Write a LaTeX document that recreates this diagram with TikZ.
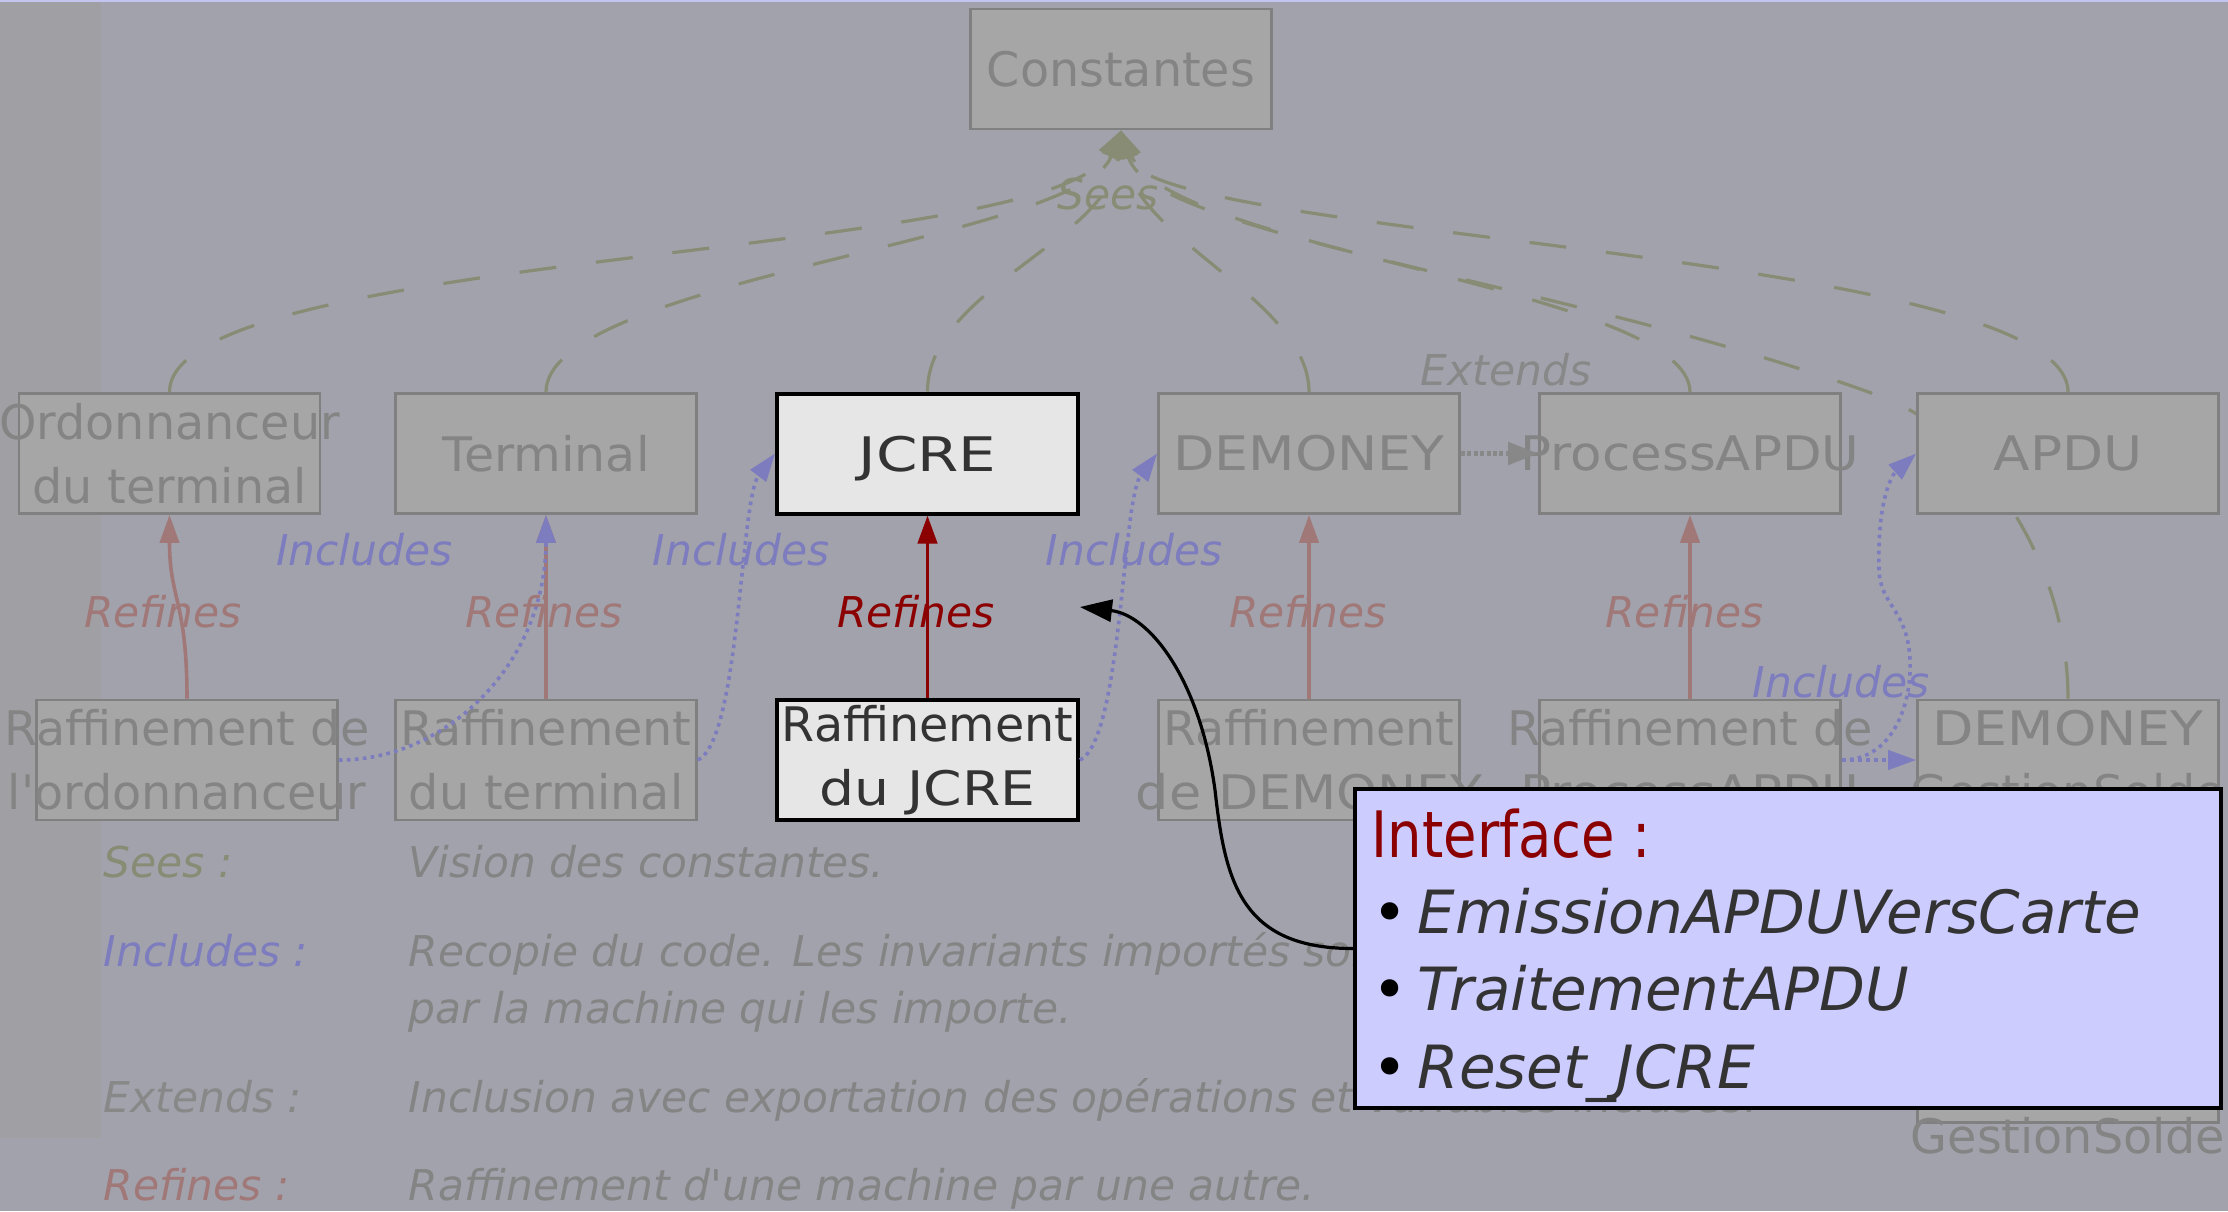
\documentclass[tikz,border=0pt]{standalone}
\usepackage{fontspec}
\usepackage{graphicx}
\usetikzlibrary{arrows.meta}
\newfontfamily\dvs{DejaVu Sans}[ItalicFont={DejaVu Sans Oblique}]
% horizontal stretch of a word
\newcommand{\hx}[2]{\scalebox{#1}[1]{#2}}

\definecolor{bgmain}{HTML}{A2A2AC}
\definecolor{bgstrip}{HTML}{A0A0A4}
\definecolor{topline}{HTML}{C4C4F0}
\definecolor{boxfill}{HTML}{A6A6A6}
\definecolor{boxline}{HTML}{808080}
\definecolor{greytext}{HTML}{848484}
\definecolor{seescol}{HTML}{888C74}
\definecolor{inclcol}{HTML}{7C7CBE}
\definecolor{refcol}{HTML}{A07878}
\definecolor{extcol}{HTML}{888888}
\definecolor{darkred}{HTML}{8B0000}
\definecolor{ifill}{HTML}{CCCCFF}
\definecolor{ink}{HTML}{333333}
\definecolor{jfill}{HTML}{E6E6E6}

\pgfdeclarelayer{back}
\pgfdeclarelayer{under}
\pgfsetlayers{back,under,main}

\begin{document}
\begin{tikzpicture}[x=0.25pt,y=-0.25pt,
  gbox/.style={draw=boxline, fill=boxfill, line width=0.7pt,
    minimum width=75.25pt, minimum height=30pt, inner sep=0pt},
  wbox/.style={gbox, draw=black, fill=jfill, line width=1pt},
  btxt/.style={font=\dvs\fontsize{11.9}{16}\selectfont, text=greytext,
    align=center, inner sep=0pt},
  wtxt/.style={btxt, text=ink},
  lbl/.style={font=\dvs\itshape\fontsize{10.6}{13}\selectfont,
    inner sep=0pt, anchor=base},
  lgd/.style={font=\dvs\itshape\fontsize{10.6}{13}\selectfont,
    inner sep=0pt, anchor=base west, text=greytext},
  tip/.style={-{Triangle[length=7pt,width=4.8pt]}},
  sees/.style={draw=seescol, line width=0.8pt,
    dash pattern=on 9.25pt off 10pt, tip},
  incl/.style={draw=inclcol, line width=0.9pt,
    dash pattern=on 0.9pt off 1.1pt, tip},
  refl/.style={draw=refcol, line width=0.9pt, tip},
  ext/.style={draw=extcol, line width=1.3pt,
    dash pattern=on 1pt off 0.6pt, -{Triangle[length=7.5pt,width=5.5pt]}},
  callout/.style={draw=black, line width=0.8pt,
    -{Triangle[length=8pt,width=5.5pt]}},
  ibox/.style={draw=black, fill=ifill, line width=1.1pt,
    minimum width=216.5pt, minimum height=79.75pt, inner sep=0pt},
  itxt/.style={font=\dvs\fontsize{14.9}{19}\selectfont,
    inner sep=0pt, anchor=base west}
]
\useasboundingbox (0,0) rectangle (2228,1211);

% slide background
\begin{pgfonlayer}{back}
  \fill[bgmain] (0,0) rectangle (2228,1211);
  \fill[bgstrip] (0,0) rectangle (101,1138);
  \fill[topline] (0,0) rectangle (2228,1.5);
\end{pgfonlayer}

% machines
\node[gbox] (const) at (1121,69) {};
\node[btxt] (constt) at (const) {Constantes};

\node[gbox] (ord) at (169.5,453.5) {};
\node[btxt] (ordt) at (ord) {Ordonnanceur\\du terminal};
\node[gbox] (term) at (546,453.5) {};
\node[btxt] (termt) at (term) {\hx{1.03}{Terminal}};
\node[wbox] (jcre) at (927.5,453.5) {};
\node[wtxt, text depth=0pt] (jcret) at (jcre) {\hx{1.25}{JCRE}};
\node[gbox] (demo) at (1309,453.5) {};
\node[btxt] (demot) at (demo) {\hx{1.13}{DEMONEY}};
\node[gbox] (proc) at (1690,453.5) {};
\node[btxt] (proct) at (proc) {\hx{1.08}{ProcessAPDU}};
\node[gbox] (apdu) at (2068,453.5) {};
\node[btxt] (apdut) at (apdu) {\hx{1.12}{APDU}};

\node[gbox] (rord) at (187,760) {};
\node[btxt] (rordt) at (rord) {Raffinement de\\l'ordonnanceur};
\node[gbox] (rterm) at (546,760) {};
\node[btxt] (rtermt) at (rterm) {Raffinement\\du terminal};
\node[wbox] (rjcre) at (927.5,760) {};
\node[wtxt] (rjcret) at (rjcre) {Raffinement\\\hx{1.16}{du JCRE}};
\node[gbox] (rdemo) at (1309,760) {};
\node[btxt] (rdemot) at (rdemo) {Raffinement\\\hx{1.1}{de DEMONEY}};
\node[gbox] (rproc) at (1690,760) {};
\node[btxt] (rproct) at (rproc) {Raffinement de\\\hx{1.08}{ProcessAPDU}};
\node[gbox] (gslow) at (2068,1062.5) {};
\node[gbox] (gs) at (2068,760) {};
\node[btxt] (gst) at (gs) {\hx{1.13}{DEMONEY}\\GestionSolde};
\node[btxt, anchor=base] (gslowt) at (2068,1153) {GestionSolde};

% Sees links, passing under the boxes
\begin{pgfonlayer}{under}
  \draw[sees] (ord.north) .. controls (169.5,250) and (1050,260) .. (const.south);
  \draw[sees] (term.north) .. controls (546,280) and (1080,240) .. (const.south);
  \draw[sees] (jcre.north) .. controls (927.5,290) and (1110,240) .. (const.south);
  \draw[sees] (demo.north) .. controls (1309,300) and (1135,240) .. (const.south);
  \draw[sees] (proc.north) .. controls (1690,290) and (1170,250) .. (const.south);
  \draw[sees] (apdu.north) .. controls (2068,250) and (1150,240) .. (const.south);
  \draw[sees] (gs.north) .. controls (2068,560) and (1980,430) .. (1874,394)
    .. controls (1560,280) and (1150,235) .. (const.south);
\end{pgfonlayer}
\node[lbl, text=seescol] (seeslbl) at (1108,209) {Sees};

% Refines links
\draw[refl] (rord.north) .. controls (187,600) and (169.5,600) .. (ord.south);
\draw[refl] (rterm.north) -- (term.south);
\draw[refl, draw=darkred] (rjcre.north) -- (jcre.south);
\draw[refl] (rdemo.north) -- (demo.south);
\draw[refl] (rproc.north) -- (proc.south);

% Includes links
\draw[incl] (rord.east) .. controls (450,760) and (546,660) .. (term.south);
\draw[incl] (rterm.east) .. controls (740,740) and (740,500) .. (jcre.west);
\draw[incl] (rjcre.east) .. controls (1122,740) and (1122,500) .. (demo.west);
\draw[incl] (rproc.east) .. controls (1895,760) and (1912,700) .. (1910,660)
  .. controls (1908,610) and (1880,605) .. (1879,570)
  .. controls (1877,500) and (1892,475) .. (apdu.west);
\draw[incl] (rproc.east) -- (gs.west);

% Extends link
\draw[ext] (demo.east) -- (proc.west);

% link labels
\node[lbl, text=refcol] (rl1) at (163,627) {Refines};
\node[lbl, text=refcol] (rl2) at (544,627) {Refines};
\node[lbl, text=darkred] (rl3) at (916,627) {Refines};
\node[lbl, text=refcol] (rl4) at (1308,627) {Refines};
\node[lbl, text=refcol] (rl5) at (1684.5,627) {Refines};
\node[lbl, text=inclcol] (il1) at (364.5,565) {Includes};
\node[lbl, text=inclcol] (il2) at (741,565) {Includes};
\node[lbl, text=inclcol] (il3) at (1134,565) {Includes};
\node[lbl, text=inclcol] (il4) at (1841,697) {Includes};
\node[lbl, text=extcol] (el) at (1506,385) {Extends};

% legend
\node[lgd, text=seescol] (lk1) at (103,877) {Sees :};
\node[lgd] (ld1) at (408,877) {Vision des constantes.};
\node[lgd, text=inclcol] (lk2) at (103,966) {Includes :};
\node[lgd] (ld2) at (408,966) {Recopie du code. Les invariants importés sont préservés};
\node[lgd] (ld2b) at (408,1023) {par la machine qui les importe.};
\node[lgd, text=extcol] (lk3) at (103,1112.5) {Extends :};
\node[lgd] (ld3) at (408,1112.5) {Inclusion avec exportation des opérations et variables incluses.};
\node[lgd, text=refcol] (lk4) at (103,1200) {Refines :};
\node[lgd] (ld4) at (408,1200) {Raffinement d'une machine par une autre.};

% interface callout
\node[ibox] (iface) at (1788,948.5) {};
\node[itxt, text=darkred, font=\dvs\fontsize{16}{19}\selectfont] (ihead) at (1371,857) {\hx{0.85}{Interface :}};
\node[itxt] (ib1) at (1372,933) {•};
\node[itxt, text=ink] (it1) at (1417,933) {\itshape EmissionAPDUVersCarte};
\node[itxt] (ib2) at (1372,1010) {•};
\node[itxt, text=ink] (it2) at (1417,1010) {\itshape TraitementAPDU};
\node[itxt] (ib3) at (1372,1088) {•};
\node[itxt, text=ink] (it3) at (1417,1088) {\itshape Reset\_JCRE};
\coordinate (ctip) at (1080,607);
\draw[callout] (iface.west) .. controls (1240,948.5) and (1225,880) .. (1215,790)
  .. controls (1200,680) and (1150,615) .. (ctip);
\end{tikzpicture}
\end{document}
